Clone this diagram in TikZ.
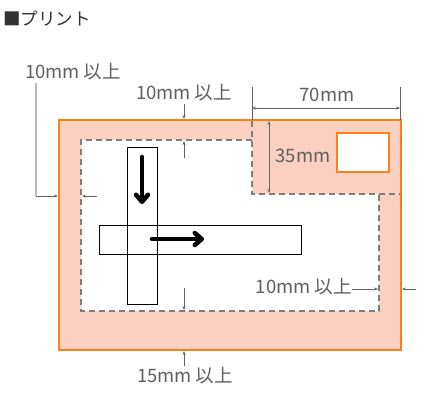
\documentclass[tikz,border=0pt]{standalone}
\usepackage{fontspec}
\setmainfont{Noto Sans CJK JP}
\usetikzlibrary{arrows.meta}
\definecolor{paper}{RGB}{250,208,192}
\definecolor{edge}{RGB}{255,128,20}
\definecolor{lbl}{RGB}{95,95,95}
\definecolor{guide}{RGB}{100,100,100}
\definecolor{dashgray}{RGB}{125,125,125}
\definecolor{leader}{RGB}{185,185,185}

\begin{document}
\begin{tikzpicture}[x=1pt,y=-1pt,
  dim/.style={guide,line width=0.6pt,-{Stealth[length=4pt,width=3pt]}},
  twodim/.style={guide,line width=0.6pt,{Stealth[length=4pt,width=3pt]}-{Stealth[length=4pt,width=3pt]}},
  margin/.style={dashgray,line width=1.2pt,dash pattern=on 6pt off 4pt},
  lbl/.style={text=lbl,font=\fontsize{18.5}{18.5}\selectfont,inner sep=0pt},
  bar/.style={draw,line width=1pt},
  move/.style={line width=4.5pt,line cap=round,-{Straight Barb[length=7pt,width=12pt,round]}}]

\useasboundingbox (0,0) rectangle (439,400);

%sheet
\coordinate (o1) at (59,120);
\coordinate (o2) at (401,350);
\draw[edge,line width=1.6pt,fill=paper] (o1) rectangle (o2);
\fill[white] (81,140) -- (252,140) -- (252,194) -- (379,194) -- (379,311) -- (81,311) -- cycle;
\draw[margin] (252,121) -- (252,194) -- (400,194);
\draw[margin] (252,140) -- (81,140) -- (81,311) -- (379,311) -- (379,194);

%stamp
\draw[edge,line width=1.2pt,fill=white] (337,133) rectangle (389,172);

%strips
\draw[bar] (127,147) rectangle (157,304);
\draw[bar] (99,225) rectangle (301,254);
\draw[move] (142,157) -- (142,204);
\draw[move] (152,239) -- (204,239);

%title
\node[anchor=west,inner sep=0pt,text=black!80,font=\fontsize{17.5}{17.5}\selectfont] (title) at (3,19) {■プリント};

%labels
\node[lbl] (tl) at (73,72) {10mm 以上};
\node[lbl] (tt) at (184,93) {10mm 以上};
\node[lbl] (tb) at (185,376) {15mm 以上};
\node[lbl,anchor=east] (tr) at (352,287) {10mm 以上};
\node[lbl] (t70) at (327,95) {70mm};
\node[lbl] (t35) at (303,156) {35mm};

%leaders
\draw[leader,line width=1.2pt] (36,83) -- (36,196);
\draw[dim] (36,196) -- (58,196);
\draw[dim] (97,196) -- (82,196);
\draw[dim] (184,104) -- (184,119);
\draw[dim] (184,158) -- (184,141);
\draw[dim] (184,288) -- (184,310);
\draw[dim] (184,366) -- (184,351);
\draw[dim] (352,289) -- (378,289);
\draw[dim] (416,289) -- (402,289);

%70mm, 35mm
\draw[guide,line width=0.6pt] (252,87) -- (252,120);
\draw[guide,line width=0.6pt] (400,87) -- (400,120);
\draw[twodim] (252,108) -- (400,108);
\draw[twodim] (269,121) -- (269,193);
\end{tikzpicture}
\end{document}
